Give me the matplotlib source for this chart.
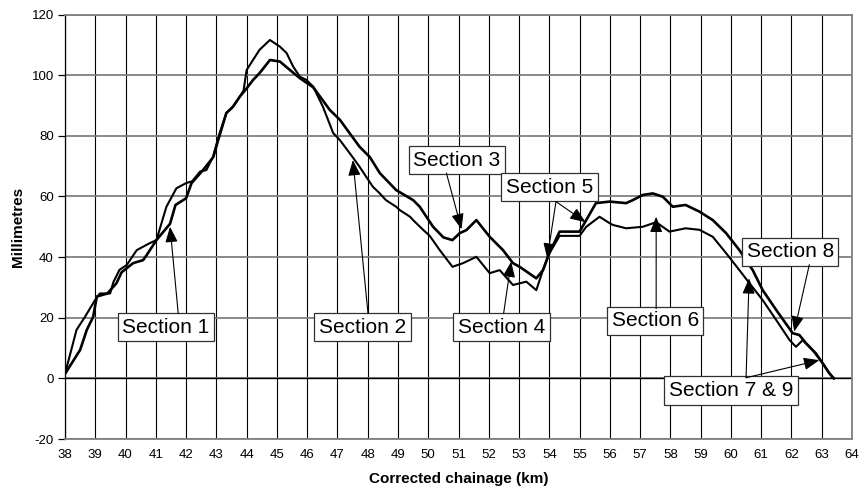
import matplotlib.pyplot as plt

plt.rcParams['font.family'] = ['Liberation Sans', 'DejaVu Sans']
plt.rcParams['axes.unicode_minus'] = False

# settlement profile, first survey (km, mm)
km_1 = [38.0, 38.38, 38.66, 38.99, 39.15, 39.49, 39.6, 39.8, 40.04, 40.37, 40.8,
        41.02, 41.35, 41.68, 42.0, 42.2, 42.46, 42.67, 42.89, 43.11, 43.33, 43.55,
        43.78, 43.9, 44.0, 44.21, 44.43, 44.77, 45.1, 45.32, 45.54, 45.76, 45.98,
        46.2, 46.52, 46.86, 47.08, 47.5, 47.73, 47.95, 48.17, 48.4, 48.6, 48.94,
        49.06, 49.4, 49.5, 49.83, 50.05, 50.38, 50.8, 51.15, 51.59, 52.03, 52.36,
        52.8, 53.24, 53.57, 53.79, 54.0, 54.34, 55.0, 55.22, 55.66, 55.99, 56.1,
        56.54, 57.09, 57.53, 57.97, 58.5, 58.96, 59.4, 59.84, 60.28, 60.61, 61.05,
        61.5, 61.94, 62.15, 62.37, 62.7, 63.03, 63.25, 63.4]
mm_1 = [1.5, 16.0, 20.3, 25.8, 28.0, 28.0, 31.8, 35.8, 37.4, 42.3, 44.6,
        45.6, 56.6, 62.7, 64.4, 65.0, 68.2, 68.7, 73.1, 80.9, 87.5, 89.6,
        93.0, 95.0, 101.7, 105.0, 108.4, 111.6, 109.4, 107.3, 102.8, 99.5, 98.4,
        96.2, 89.6, 80.9, 78.6, 73.0, 69.8, 66.5, 63.2, 61.0, 58.8, 56.6,
        55.5, 53.3, 52.2, 49.0, 47.0, 42.3, 36.8, 38.0, 40.1, 34.7, 35.7,
        30.8, 31.9, 29.1, 35.7, 41.3, 47.0, 47.0, 50.0, 53.3, 51.2, 50.6,
        49.5, 50.0, 51.5, 48.4, 49.5, 49.0, 46.7, 41.3, 35.7, 31.4, 25.8,
        19.2, 12.6, 10.4, 12.6, 9.3, 5.0, 1.7, 0.0]

# settlement profile, second survey (km, mm)
km_2 = [38.0, 38.5, 38.72, 38.93, 39.05, 39.4, 39.7, 39.87, 40.25, 40.58, 40.7,
        41.02, 41.47, 41.65, 42.0, 42.18, 42.56, 42.9, 43.06, 43.33, 43.55, 43.78,
        43.99, 44.21, 44.43, 44.77, 45.1, 45.43, 45.76, 46.2, 46.75, 47.08, 47.4,
        47.73, 48.07, 48.4, 48.94, 49.5, 49.72, 50.16, 50.5, 50.8, 51.04, 51.26,
        51.59, 52.03, 52.47, 52.8, 53.02, 53.57, 53.79, 54.0, 54.34, 55.0, 55.22,
        55.54, 55.99, 56.54, 56.76, 57.09, 57.42, 57.75, 58.08, 58.5, 58.96, 59.4,
        59.84, 60.28, 60.72, 61.05, 61.5, 62.04, 62.26, 62.48, 62.8, 63.03, 63.25,
        63.4]
mm_2 = [1.5, 9.4, 16.0, 20.3, 27.0, 28.0, 31.4, 35.0, 38.0, 39.0, 40.7,
        45.6, 51.0, 57.2, 59.4, 64.4, 68.7, 73.0, 78.6, 87.5, 89.6, 93.0,
        95.5, 98.4, 100.7, 105.0, 104.5, 101.7, 99.0, 96.0, 88.5, 85.3, 80.9,
        76.4, 73.0, 67.7, 62.1, 58.8, 56.6, 50.0, 46.5, 45.6, 47.9, 48.9,
        52.2, 46.7, 42.3, 38.0, 36.8, 33.0, 35.7, 41.3, 48.4, 48.4, 52.2,
        57.8, 58.3, 57.8, 58.8, 60.5, 61.0, 59.9, 56.6, 57.2, 55.0, 52.2,
        47.9, 42.3, 35.7, 29.1, 22.5, 14.9, 14.3, 11.6, 8.3, 5.0, 1.7,
        0.0]

# section call-outs: label, box centre, list of (arrow start, arrow tip)
sections = [
    ("Section 1", (41.33, 16.9), [((41.74, 21.4), (41.47, 50.0))]),
    ("Section 2", (47.83, 16.9), [((48.01, 21.4), (47.51, 72.0))]),
    ("Section 3", (50.95, 72.0), [((50.60, 67.7), (51.10, 49.2))]),
    ("Section 4", (52.42, 16.9), [((52.49, 21.4), (52.74, 38.5))]),
    ("Section 5", (54.00, 63.0), [((54.22, 58.3), (53.93, 39.5)),
                                  ((54.22, 58.3), (55.20, 51.5))]),
    ("Section 6", (57.50, 19.0), [((57.53, 23.0), (57.53, 53.3))]),
    ("Section 7 & 9", (60.01, -4.0), [((60.50, 0.2), (60.60, 33.0)),
                                      ((60.50, 0.2), (62.92, 6.0))]),
    ("Section 8", (61.96, 41.7), [((62.59, 37.5), (62.09, 15.4))]),
]

x_ticks = list(range(38, 65))
y_ticks = list(range(-20, 121, 20))

fig = plt.figure(figsize=(8.6, 4.94), dpi=100)
ax = fig.add_axes([0.0756, 0.1113, 0.9151, 0.8593])

ax.set_xlim(38, 64)
ax.set_ylim(-20, 120)
ax.set_xticks(x_ticks)
ax.set_yticks(y_ticks)

# Excel-style grid: black verticals, grey horizontals
for k in x_ticks:
    ax.axvline(k, color='black', lw=0.8, zorder=1)
for v in y_ticks:
    ax.axhline(v, color='#808080', lw=1.3, zorder=1)
ax.axhline(0, color='black', lw=1.0, zorder=1.5)

for s in ax.spines.values():
    s.set_color('#808080')
    s.set_linewidth(1.3)
ax.spines['left'].set_color('black')
ax.spines['left'].set_linewidth(0.9)

ax.plot(km_1, mm_1, color='black', lw=1.5, zorder=3)
ax.plot(km_2, mm_2, color='black', lw=1.9, zorder=3)

for label, centre, arrows in sections:
    ax.text(centre[0], centre[1], label, fontsize=15, ha='center', va='center',
            zorder=5,
            bbox=dict(boxstyle='square,pad=0.22', facecolor='white',
                      edgecolor='#303030', linewidth=0.9))
    for start, tip in arrows:
        ax.annotate('', xy=tip, xytext=start, zorder=6,
                    arrowprops=dict(arrowstyle='-|>,head_width=0.38,head_length=0.95',
                                    color='black', lw=0.8,
                                    shrinkA=0, shrinkB=0))

ax.tick_params(axis='x', length=0, pad=7, labelsize=9.5)
ax.tick_params(axis='y', length=5, width=0.9, pad=3, labelsize=9.5)

ax.set_xlabel("Corrected chainage (km)", fontsize=11, fontweight='bold', labelpad=8)
ax.set_ylabel("Millimetres", fontsize=11, fontweight='bold', labelpad=5)

fig.savefig("out.png", dpi=100)
plt.close(fig)
